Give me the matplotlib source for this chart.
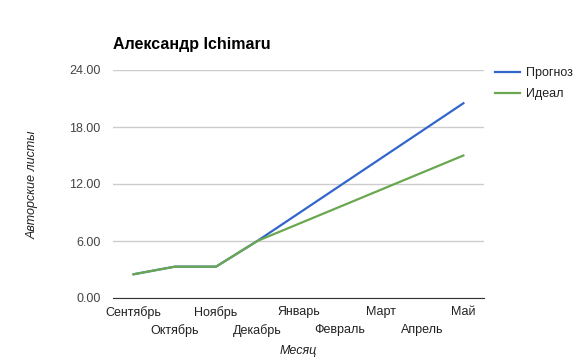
import matplotlib
matplotlib.use('Agg')
import matplotlib.pyplot as plt

months = ['Сентябрь', 'Октябрь', 'Ноябрь', 'Декабрь', 'Январь',
          'Февраль', 'Март', 'Апрель', 'Май']
forecast = [2.5, 3.3, 3.3, 6.0, 8.9, 11.8, 14.7, 17.6, 20.5]
ideal = [2.5, 3.3, 3.3, 6.0, 7.8, 9.6, 11.4, 13.2, 15.0]
yticks = [0, 6, 12, 18, 24]

plt.rcParams['font.family'] = ['Liberation Sans', 'DejaVu Sans']

fig = plt.figure(figsize=(5.82, 3.64), dpi=100)
ax = fig.add_axes([113/582, 66/364, 371/582, 228/364])

x = list(range(len(months)))
ax.plot(x, forecast, color='#3366cc', lw=1.6, label='Прогноз')
ax.plot(x, ideal, color='#6aa84f', lw=1.6, label='Идеал')

ax.set_xlim(-0.5, len(months) - 0.5)
ax.set_ylim(0, 24)
ax.set_yticks(yticks)
ax.set_yticklabels(['%.2f' % v for v in yticks])
ax.grid(axis='y', color='#cccccc', lw=1)
ax.set_axisbelow(True)
for s in ['top', 'right', 'left']:
    ax.spines[s].set_visible(False)
ax.spines['bottom'].set_color('#333333')
ax.tick_params(axis='y', length=0, pad=9, labelsize=9, labelcolor='#444444')
ax.tick_params(axis='x', length=0)

ax.set_xticks(x)
ax.set_xticklabels([])
for i, m in enumerate(months):
    ax.annotate(m, (i, 0), xycoords=('data', 'axes fraction'),
                xytext=(0, -6 if i % 2 == 0 else -18.5), textcoords='offset points',
                ha='center', va='top', fontsize=9, color='#222222')

fig.text(298/582, 1 - 351/364, 'Месяц', ha='center', va='center',
         fontsize=9, style='italic', color='#222222')
fig.text(33/582, 1 - 185/364, 'Авторские листы', ha='center', va='center',
         rotation=90, fontsize=9, style='italic', color='#222222')
fig.text(113/582, 1 - 45/364, 'Александр Ichimaru', ha='left', va='center',
         fontsize=11.5, fontweight='bold', color='#000000')

ax.legend(loc='upper left', bbox_to_anchor=(495/371 - 113/371, 1.0 + 3/228),
          frameon=False, fontsize=9, handlelength=2.0, handletextpad=0.5,
          borderaxespad=0, borderpad=0, labelspacing=0.75, labelcolor='#222222')

fig.savefig('out.png', dpi=100)
